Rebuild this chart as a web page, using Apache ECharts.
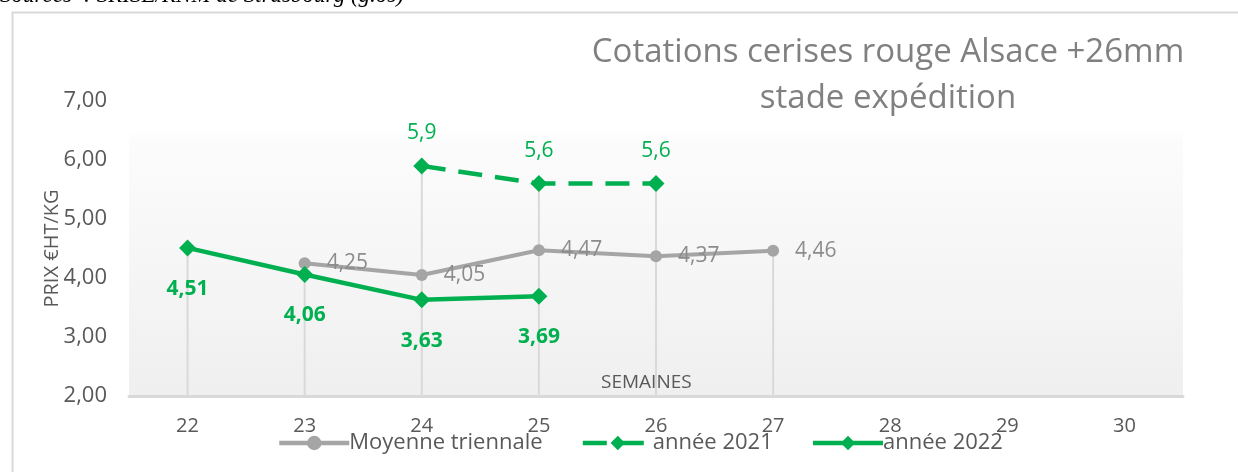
<!DOCTYPE html>
<html>
<head>
<meta charset="utf-8">
<script src="https://cdn.jsdelivr.net/npm/echarts@6/dist/echarts.min.js"></script>
<style>
html,body{margin:0;padding:0;background:#fff;}
#c{width:1238px;height:472px;}
</style>
</head>
<body>
<div id="c"></div>
<script>
const categories = ['22','23','24','25','26','27','28','29','30'];
const moyenne = [null, 4.25, 4.05, 4.47, 4.37, 4.46, null, null, null];
const annee2021 = [null, null, 5.9, 5.6, 5.6, null, null, null, null];
const annee2022 = [4.51, 4.06, 3.63, 3.69, null, null, null, null, null];
const yTicks = [2, 3, 4, 5, 6, 7];
const titleLines = ['Cotations cerises rouge Alsace +26mm', 'stade expédition'];
const sourceText = 'Sources  : SRISE/RNM de Strasbourg (g.os)';

const dropLines = categories.map((c, i) => {
  const vals = [moyenne[i], annee2021[i], annee2022[i]].filter(v => v != null);
  return vals.length ? Math.max(...vals) : null;
});
const fmt = v => String(v).replace('.', ',');
const FONT = 'Open Sans';
const GREEN = '#00B050';
const GREY = '#A5A5A5';

const chart = echarts.init(document.getElementById('c'));
chart.setOption({
  animation: false,
  textStyle: { fontFamily: FONT },
  title: {
    text: titleLines.join('\n'),
    left: 883, top: 25, textAlign: 'center',
    textStyle: { fontFamily: FONT, fontSize: 33, fontWeight: 'normal', color: '#808080', lineHeight: 46 }
  },
  graphic: [
    { type: 'rect', left: 10, top: 10, shape: { width: 1400, height: 700 }, style: { fill: 'none', stroke: '#d9d9d9', lineWidth: 2 }, z: -10 },
    { type: 'text', left: 0, top: -16, style: { text: sourceText, font: 'italic 23px "Liberation Serif"', fill: '#000' } },
    { type: 'text', left: 601, top: 373, style: { text: 'SEMAINES', font: '19px "Open Sans"', fill: '#595959' }, z: 20 }
  ],
  grid: {
    left: 129, right: 55, top: 101, bottom: 76,
    show: true, borderWidth: 0,
    backgroundColor: new echarts.graphic.LinearGradient(0, 0, 0, 1, [
      { offset: 0, color: '#ffffff' },
      { offset: 0.1, color: '#ffffff' },
      { offset: 0.13, color: '#fcfcfc' },
      { offset: 1, color: '#efefef' }
    ])
  },
  legend: {
    left: 272, top: 427,
    itemWidth: 70, itemHeight: 18, itemGap: 38,
    lineStyle: { width: 4.5 },
    textStyle: { fontFamily: FONT, fontSize: 22, color: '#595959', padding: [0, 0, 0, -5] },
    data: ['Moyenne triennale', 'année 2021', 'année 2022']
  },
  xAxis: {
    type: 'category', data: categories, boundaryGap: true,
    axisLine: { lineStyle: { color: '#d9d9d9', width: 3 } },
    axisTick: { show: false },
    axisLabel: { fontFamily: FONT, fontSize: 20, color: '#595959', margin: 20 },
    splitLine: { show: false }
  },
  yAxis: {
    type: 'value', min: 2, max: 7, interval: 1,
    name: 'PRIX €HT/KG', nameLocation: 'middle', nameGap: 67, nameRotate: 90,
    nameMoveOverlap: false,
    nameTextStyle: { fontFamily: FONT, fontSize: 20, color: '#595959' },
    axisLine: { show: false }, axisTick: { show: false },
    splitLine: { show: false },
    axisLabel: { fontFamily: FONT, fontSize: 22, color: '#595959', margin: 22,
      formatter: v => v.toFixed(2).replace('.', ',') }
  },
  series: [
    {
      name: 'drop', type: 'bar', data: dropLines, barWidth: 2, silent: true, z: 1,
      itemStyle: { color: '#d9d9d9' }, legendHoverLink: false, tooltip: { show: false }
    },
    {
      name: 'Moyenne triennale', type: 'line', data: moyenne, z: 3,
      symbol: 'circle', symbolSize: 12, color: GREY,
      lineStyle: { color: GREY, width: 4 }, itemStyle: { color: GREY },
      label: { show: true, position: 'right', distance: 16, fontFamily: FONT, fontSize: 21, color: '#8c8c8c', formatter: p => fmt(p.value) }
    },
    {
      name: 'année 2021', type: 'line', data: annee2021, z: 4,
      symbol: 'diamond', symbolSize: [17, 17], color: GREEN,
      lineStyle: { color: GREEN, width: 4.5, type: [24, 13] }, itemStyle: { color: GREEN },
      label: { show: true, position: 'top', distance: 14, fontFamily: FONT, fontSize: 21, color: GREEN, formatter: p => fmt(p.value) }
    },
    {
      name: 'année 2022', type: 'line', data: annee2022, z: 5,
      symbol: 'diamond', symbolSize: [17, 17], color: GREEN,
      lineStyle: { color: GREEN, width: 4.5 }, itemStyle: { color: GREEN },
      label: { show: true, position: 'bottom', distance: 22, fontFamily: FONT, fontSize: 21, fontWeight: 'bold', color: GREEN, formatter: p => fmt(p.value) }
    }
  ]
});
</script>
</body>
</html>
